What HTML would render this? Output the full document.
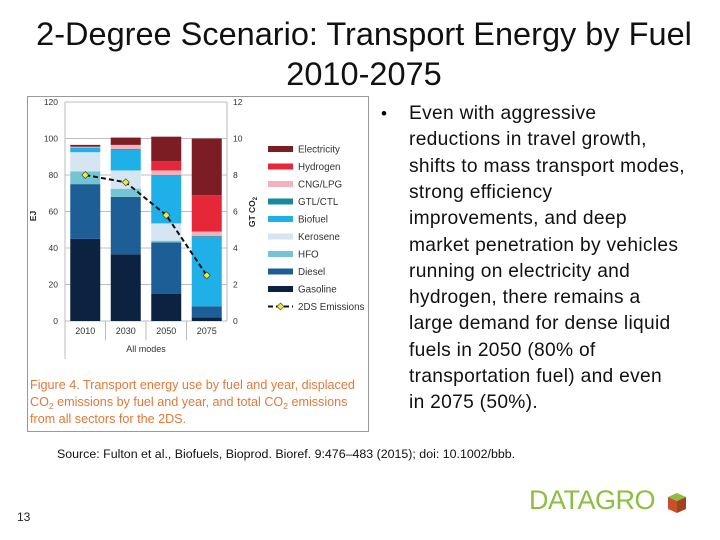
<!DOCTYPE html>
<html><head><meta charset="utf-8">
<style>
body{margin:0;width:720px;height:540px;background:#fff;position:relative;overflow:hidden;font-family:"Liberation Sans",sans-serif}
.t{position:absolute;white-space:nowrap}
#title{left:0;width:728px;text-align:center;font-size:32.5px;color:#111;line-height:40px;top:14px}
.bl{position:absolute;left:409px;font-size:19.2px;color:#111;white-space:nowrap;letter-spacing:0.3px}
</style></head><body>
<div id="title" class="t">2-Degree Scenario: Transport Energy by Fuel<br>2010-2075</div>

<svg id="chart" width="720" height="540" style="position:absolute;left:0;top:0">
<rect x="27.5" y="96.5" width="341" height="335" fill="#fff" stroke="#999"/>
<g id="g"></g>
<text x="30" y="389" font-size="12.6" fill="#e0793a">Figure 4. Transport energy use by fuel and year, displaced</text>
<text x="30" y="406" font-size="12.6" fill="#e0793a">CO<tspan font-size="8.5" dy="3">2</tspan><tspan dy="-3"> emissions by fuel and year, and total CO</tspan><tspan font-size="8.5" dy="3">2</tspan><tspan dy="-3"> emissions</tspan></text>
<text x="30" y="423" font-size="12.6" fill="#e0793a">from all sectors for the 2DS.</text>
</svg>

<div class="t" style="left:381px;top:104px;font-size:17px">•</div>
<div class="bl" style="top:103px">Even with aggressive</div>
<div class="bl" style="top:129.3px">reductions in travel growth,</div>
<div class="bl" style="top:155.6px">shifts to mass transport modes,</div>
<div class="bl" style="top:181.9px">strong efficiency</div>
<div class="bl" style="top:208.2px">improvements, and deep</div>
<div class="bl" style="top:234.5px">market penetration by vehicles</div>
<div class="bl" style="top:260.8px">running on electricity and</div>
<div class="bl" style="top:287.1px">hydrogen, there remains a</div>
<div class="bl" style="top:313.4px">large demand for dense liquid</div>
<div class="bl" style="top:339.7px">fuels in 2050 (80% of</div>
<div class="bl" style="top:366px">transportation fuel) and even</div>
<div class="bl" style="top:392.3px">in 2075 (50%).</div>

<div class="t" style="left:57px;top:447px;font-size:12.4px;color:#111">Source: Fulton et al., Biofuels, Bioprod. Bioref. 9:476–483 (2015); doi: 10.1002/bbb.</div>
<div class="t" style="left:17px;top:510px;font-size:12px;color:#222">13</div>
<div class="t" style="left:529px;top:485px;font-size:27px;color:#8cbf3f;letter-spacing:-0.5px">DATAGRO</div>
<svg class="t" style="left:666px;top:491px" width="22" height="24"><polygon points="2,6 11,2 20,6 11,10" fill="#8cbf3f"/><polygon points="2,6 11,10 11,22 2,18" fill="#c8502a"/><polygon points="11,10 20,6 20,18 11,22" fill="#a3421f"/></svg>

<script>
const years=["2010","2030","2050","2075"];
const fuels=["Gasoline","Diesel","HFO","Kerosene","Biofuel","GTL/CTL","CNG/LPG","Hydrogen","Electricity"];
const colors=["#0b2240","#1e5e97","#74c5d3","#d5e5f1","#1eb0e6","#17899e","#f3b2bb","#e6273a","#7b1d22"];
const gasoline=[45,36.5,15,2];
const diesel=[30,31.5,28,6];
const hfo=[7,4.5,1,0];
const kerosene=[10.5,10,9.5,0];
const biofuel=[2.5,11.5,26.5,38];
const gtl=[0,0.3,0,0.5];
const cng=[0.5,2.2,2.5,2.5];
const hydrogen=[0,0,5,20];
const electricity=[1,4,13.5,31];
const emissions=[8,7.6,5.8,2.5];
const leftTicks=[0,20,40,60,80,100,120];
const rightTicks=[0,2,4,6,8,10,12];
const series=[gasoline,diesel,hfo,kerosene,biofuel,gtl,cng,hydrogen,electricity];
const NS="http://www.w3.org/2000/svg";
const g=document.getElementById('g');
const X0=65,X1=227,Y0=321,Y1=102;
const y=v=>Y0-(v/120)*(Y0-Y1);
const y2=v=>Y0-(v/12)*(Y0-Y1);
const band=(X1-X0)/years.length;
const xc=i=>X0+band*(i+0.5);
function el(t,a){const e=document.createElementNS(NS,t);for(const k in a)e.setAttribute(k,a[k]);g.appendChild(e);return e;}
leftTicks.forEach((t,i)=>{
 const l=el('line',{x1:X0,x2:X1,y1:y(t),y2:y(t),stroke:'#aaa','stroke-width':0.8});
 
 
 const tx=el('text',{x:58,y:y(t)+3,'font-size':8.5,'text-anchor':'end',fill:'#333'});tx.textContent=t;
 
 
});
rightTicks.forEach(t=>{
 const tx=el('text',{x:233,y:y2(t)+3,'font-size':8.5,fill:'#333'});tx.textContent=t;
 
 
});
[X0,X1].forEach(x=>{el('line',{x1:x,x2:x,y1:Y1,y2:x==X0?359:Y0,stroke:'#aaa','stroke-width':0.8});});
for(let i=1;i<years.length;i++){el('line',{x1:X0+band*i,x2:X0+band*i,y1:Y0,y2:340,stroke:'#aaa','stroke-width':0.8});}
years.forEach((yr,i)=>{
 let cum=0;
 series.forEach((s,k)=>{
  const v=s[i]; if(v<=0){return;}
  const r=el('rect',{x:xc(i)-15,width:30,y:y(cum+v),height:y(cum)-y(cum+v),fill:colors[k]});
  
  
  cum+=v;
 });
 const tx=el('text',{x:xc(i),y:334,'font-size':9,'text-anchor':'middle',fill:'#333'});tx.textContent=yr;
 
 
});
const ax=el('text',{x:146,y:352,'font-size':9,'text-anchor':'middle',fill:'#333'});ax.textContent='All modes';


const ej=el('text',{x:0,y:0,'font-size':8.5,'font-weight':'bold',transform:'translate(36,216) rotate(-90)','text-anchor':'middle',fill:'#222'});ej.textContent='EJ';


const gt=el('text',{x:0,y:0,'font-size':8.5,'font-weight':'bold',transform:'translate(255,212) rotate(-90)','text-anchor':'middle',fill:'#222'});gt.innerHTML='GT CO<tspan font-size="6" dy="2">2</tspan>';


const pts=emissions.map((v,i)=>xc(i)+','+y2(v)).join(' ');
const pl=el('polyline',{points:pts,fill:'none',stroke:'#111','stroke-width':2,'stroke-dasharray':'5,3'});


emissions.forEach((v,i)=>{
 const cx=xc(i),cy=y2(v);
 const d=el('polygon',{points:`${cx},${cy-3.5} ${cx+3.5},${cy} ${cx},${cy+3.5} ${cx-3.5},${cy}`,fill:'#e6f03a',stroke:'#333','stroke-width':0.6});
 
 
});
const legOrder=[8,7,6,5,4,3,2,1,0];
legOrder.forEach((k,j)=>{
 const yy=149+j*17.5;
 const r=el('rect',{x:268,y:yy-3,width:25,height:6,fill:colors[k]});
 
 
 const t=el('text',{x:298,y:yy+3.5,'font-size':9.8,fill:'#333'});t.textContent=fuels[k];
 
 
});
const ly=149+9*17.5;
el('line',{x1:268,x2:293,y1:ly,y2:ly,stroke:'#111','stroke-width':2,'stroke-dasharray':'5,3'});
el('polygon',{points:`280.5,${ly-3.5} 284,${ly} 280.5,${ly+3.5} 277,${ly}`,fill:'#e6f03a',stroke:'#333','stroke-width':0.6});
const lt=el('text',{x:298,y:ly+3.5,'font-size':9.8,fill:'#333'});lt.textContent='2DS Emissions';


</script>
</body></html>
